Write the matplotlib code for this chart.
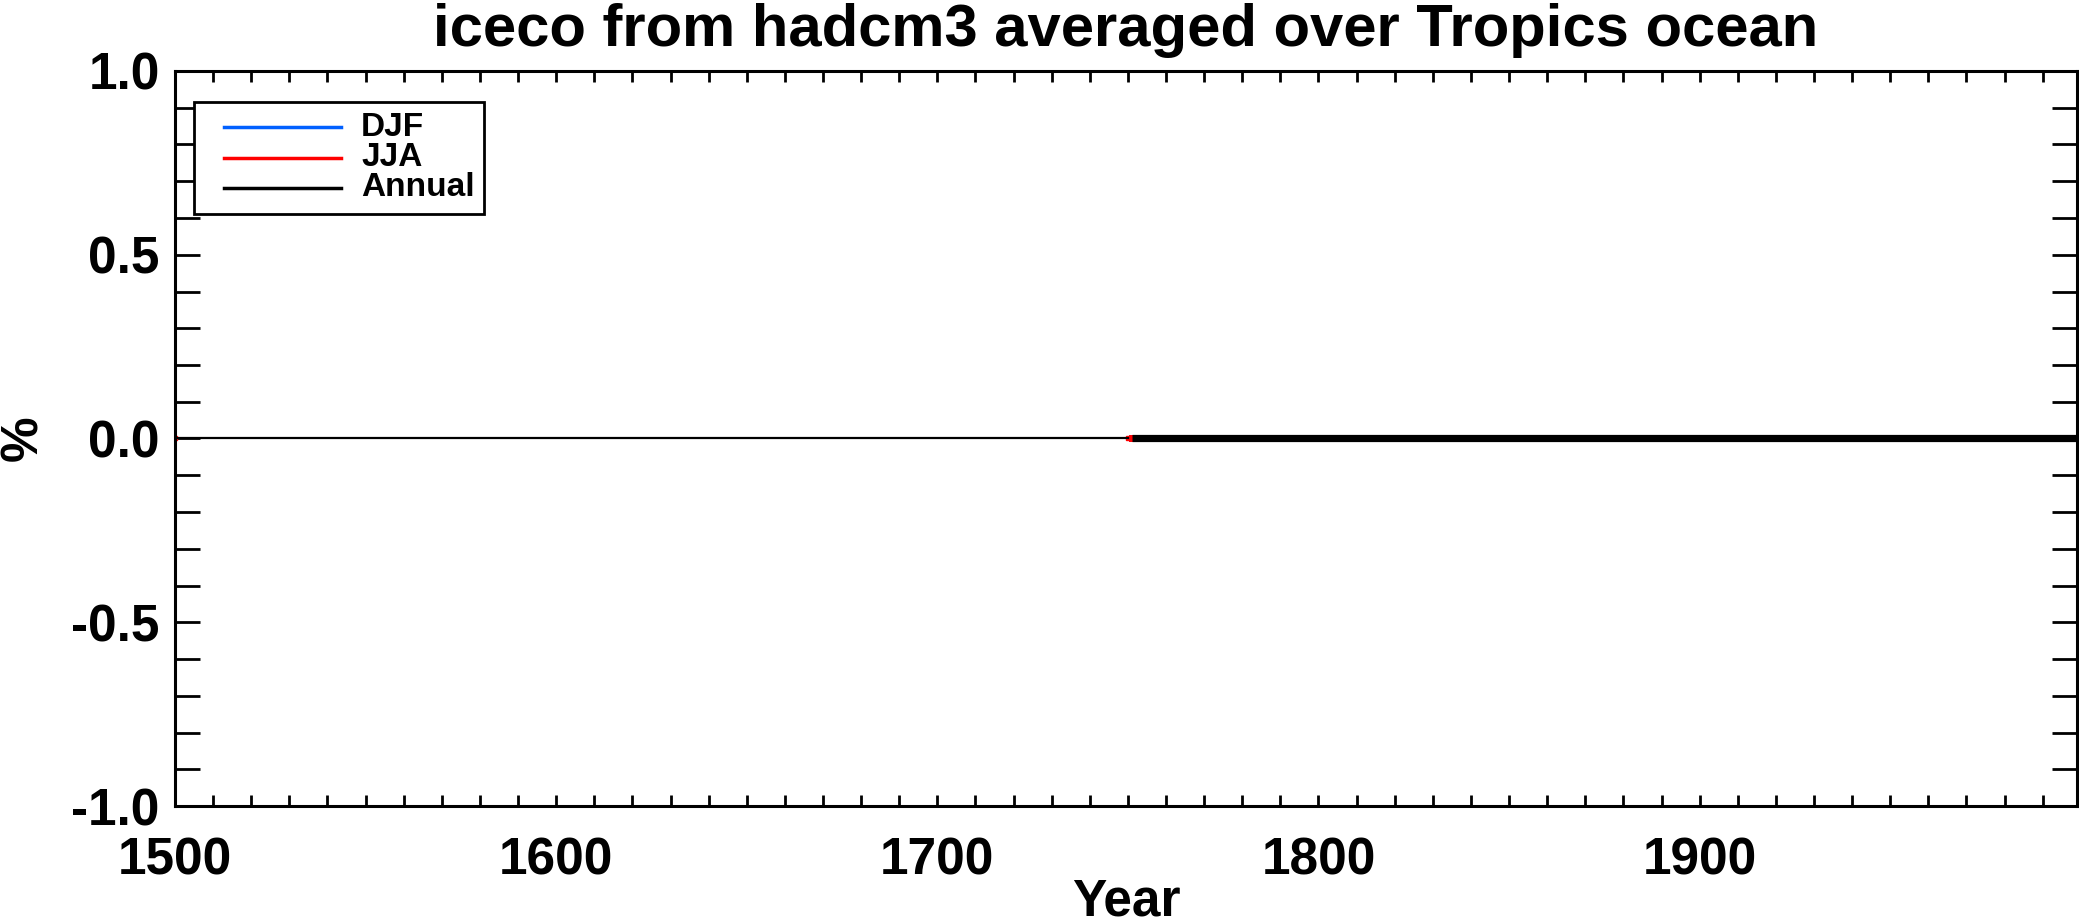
import matplotlib
matplotlib.use("Agg")
import matplotlib.pyplot as plt
from matplotlib.ticker import MultipleLocator
from matplotlib.patches import Rectangle

plt.rcParams['font.family'] = ['Liberation Sans', 'DejaVu Sans']
plt.rcParams['font.weight'] = 'bold'

# Data
years_early = [1500, 1750]
annual_early = [0.0, 0.0]
years_late = [1751, 1999]
annual_late = [0.0, 0.0]
djf_late = [0.0, 0.0]
jja_late = [0.0, 0.0]
jja_points_years = [1500, 1750]
jja_points = [0.0, 0.0]

series_labels = ["DJF", "JJA", "Annual"]
series_colors = ["#0060ff", "#ff0000", "#000000"]
ytick_vals = [-1.0, -0.5, 0.0, 0.5, 1.0]
ytick_labels = ["-1.0", "-0.5", "0.0", "0.5", "1.0"]
xtick_vals = [1500, 1600, 1700, 1800, 1900]
xtick_labels = ["1500", "1600", "1700", "1800", "1900"]

W, H = 2079, 923
fig = plt.figure(figsize=(W / 100, H / 100), dpi=100)
AX_L, AX_R, AX_T, AX_B = 175, 2077, 71, 806
ax = fig.add_axes([AX_L / W, 1 - AX_B / H, (AX_R - AX_L) / W, (AX_B - AX_T) / H])

def ax_frac(px, py):
    return ((px - AX_L) / (AX_R - AX_L), (AX_B - py) / (AX_B - AX_T))

ax.plot(years_early, annual_early, color='black', lw=1.6, zorder=3)
ax.plot(jja_points_years, jja_points, ls='none', marker='s', ms=3, color='red', mec='red', zorder=2)
ax.plot(years_late, djf_late, color=series_colors[0], lw=5, zorder=2)
ax.plot(years_late, jja_late, color=series_colors[1], lw=5, zorder=2)
ax.plot(years_late, annual_late, color='black', lw=5.2, zorder=4, solid_capstyle='butt')

ax.set_xlim(1500, 1999)
ax.set_ylim(-1.0, 1.0)
ax.set_xticks(xtick_vals)
ax.set_xticklabels(xtick_labels)
ax.set_yticks(ytick_vals)
ax.set_yticklabels(ytick_labels)
ax.xaxis.set_minor_locator(MultipleLocator(10))
ax.yaxis.set_minor_locator(MultipleLocator(0.1))

ax.tick_params(which='both', direction='in', top=True, right=True, width=2, labelsize=37)
ax.tick_params(axis='y', which='both', length=18, pad=11)
ax.tick_params(axis='x', which='both', length=8, pad=22)
for lbl in ax.get_xticklabels() + ax.get_yticklabels():
    lbl.set_fontweight('bold')
for s in ax.spines.values():
    s.set_linewidth(2.2)

fig.text(0.5 * (AX_L + AX_R) / W, 1 - 46 / H, "iceco from hadcm3 averaged over Tropics ocean",
         fontsize=43, fontweight='bold', ha='center', va='baseline')
ax.set_xlabel("Year", fontsize=37, fontweight='bold')
ax.xaxis.set_label_coords(0.5, ax_frac(0, 902)[1])
ax.xaxis.label.set_va('center')
ax.set_ylabel("%", fontsize=37, fontweight='bold')
ax.yaxis.set_label_coords(ax_frac(24, 0)[0], 0.5)
ax.yaxis.label.set_va('center')

# Legend (drawn manually to match the box geometry)
bx0, by0 = ax_frac(194, 214)
bx1, by1 = ax_frac(484, 102)
ax.add_patch(Rectangle((bx0, by0), bx1 - bx0, by1 - by0, transform=ax.transAxes,
                       facecolor='white', edgecolor='black', lw=2, zorder=10))
for lab, col, ypx in zip(series_labels, series_colors, [127, 158, 188]):
    x0, yy = ax_frac(224, ypx)
    x1, _ = ax_frac(341, ypx)
    ax.plot([x0, x1], [yy, yy], color=col, lw=2.5, transform=ax.transAxes, zorder=11)
    tx, _ = ax_frac(361, ypx)
    ax.text(tx, yy, lab, transform=ax.transAxes, fontsize=24, fontweight='bold',
            va='center', ha='left', zorder=11)

fig.savefig("out.png", dpi=100)
